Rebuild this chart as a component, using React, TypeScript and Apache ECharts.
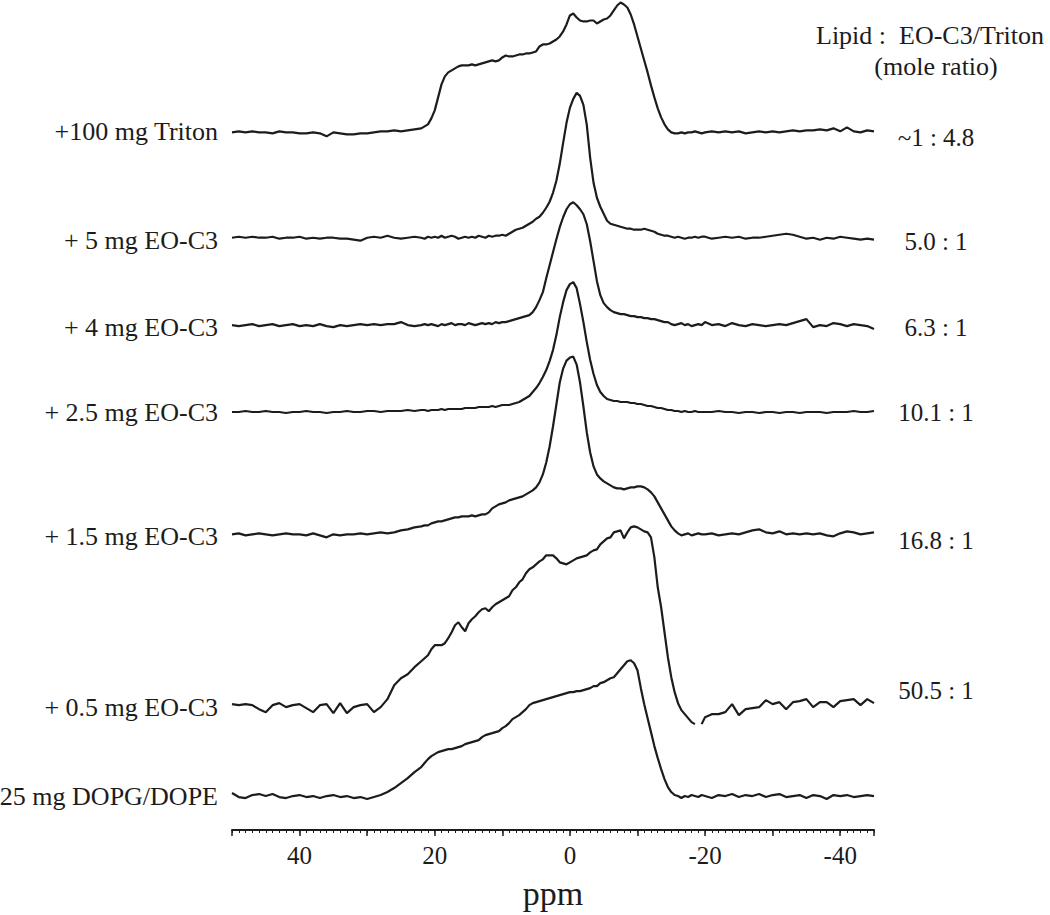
import React, { useEffect, useRef } from "react";
import * as echarts from "echarts";

// chemical shift sampling grid (ppm)
const ppm = [
  50, 49, 48, 47, 46, 45, 44, 43, 42, 41, 40, 39, 38, 37, 36, 35, 34, 33, 32, 31, 30, 29, 28, 27, 26, 25, 24, 23,
  22, 21.5, 21, 20.5, 20, 19.5, 19, 18.5, 18, 17.5,
  17, 16.5, 16, 15.5, 15, 14.5, 14, 13.5, 13, 12.5,
  12, 11.5, 11, 10.5, 10, 9.5, 9, 8.5, 8, 7.5,
  7, 6.5, 6, 5.5, 5, 4.5, 4, 3.5, 3, 2.5,
  2, 1.5, 1, 0.5, 0, -0.5, -1, -1.5, -2, -2.5,
  -3, -3.5, -4, -4.5, -5, -5.5, -6, -6.5, -7, -7.5,
  -8, -8.5, -9, -9.5, -10, -10.5, -11, -11.5, -12, -12.5,
  -13, -13.5, -14, -14.5, -15, -15.5, -16, -16.5, -17, -17.5,
  -18, -18.5, -19, -19.5, -20,
  -21, -22, -23, -24, -25, -26, -27, -28, -29, -30, -31, -32, -33, -34, -35, -36, -37, -38, -39, -40, -41, -42, -43, -44, -45,
];

// signal intensities (height above each trace's own baseline)
const triton100 = [
  0, 1, 0, 1, 0, 0, -1, 1, 0, 0, -1, -1, 0, -1, -4, 0, -1, -2, -2, -1, -1, 0, 1, 1, 2, 1, 2, 3,
  4, 6, 8, 14, 22, 35, 48, 56, 60, 62,
  64, 66, 67, 67, 67, 68, 67, 68, 69, 70,
  71, 72, 71, 72, 75, 77, 76, 76, 77, 78,
  78, 79, 79, 80, 81, 86, 88, 88, 89, 91,
  93, 96, 101, 108, 117, 119, 115, 112, 111, 111,
  112, 112, 109, 111, 113, 114, 117, 122, 127, 130,
  128, 125, 118, 108, 96, 84, 72, 60, 47, 35,
  24, 15, 8, 3, 0, -1, -1, 0, -1, 0,
  0, 1, 0, -1, 0,
  1, 0, 1, 0, 1, -1, 0, 1, 0, 1, 0, 1, 2, 1, 2, 2, 3, 2, 4, 1, 5, 1, 0, 2, 1,
];

const eoc3_5mg = [
  0, 1, 0, 1, 0, 0, 1, -1, 0, 0, 1, -1, 0, -1, 0, 0, -1, -1, -2, -3, 0, 1, 0, 2, 0, -1, 0, 1,
  0, -1, 1, 0, 1, 0, 2, 0, 1, 2,
  1, -1, 0, 1, 0, 1, 0, 2, 1, 0,
  2, 1, 2, 2, 3, 2, 4, 6, 8, 9,
  10, 12, 14, 16, 19, 21, 25, 30, 36, 45,
  57, 74, 95, 115, 130, 139, 145, 142, 133, 113,
  80, 55, 40, 31, 24, 17, 14, 13, 12, 11,
  10, 9, 9, 8, 8, 8, 9, 8, 7, 6,
  4, 3, 2, 2, 1, 0, 1, 0, -1, 0,
  0, 1, 0, 1, 1,
  -1, 0, 1, 0, 1, -1, 0, 0, 1, 2, 3, 4, 3, 1, -1, 0, -2, 0, -1, 1, 0, -1, -2, -1, -2,
];

const eoc3_4mg = [
  0, -1, 0, 1, -1, 0, 1, -1, 0, 1, -1, 0, -1, 1, -1, -2, 0, -1, 0, 1, 0, 1, 0, 1, 1, 3, 0, -1,
  0, 1, 0, 1, 0, -1, 1, 0, 1, 2,
  0, 1, 1, 0, 2, 1, 0, 1, 2, 1,
  2, 1, 3, 2, 3, 3, 4, 5, 6, 7,
  8, 9, 10, 13, 18, 25, 33, 47, 60, 73,
  86, 98, 108, 116, 121, 123, 120, 116, 111, 101,
  84, 64, 44, 30, 22, 18, 15, 13, 12, 11,
  11, 10, 9, 9, 8, 8, 7, 7, 6, 6,
  5, 4, 3, 3, 1, 0, 1, 2, 0, 1,
  -1, 0, 1, 0, 3,
  0, 1, -1, 2, 0, -1, 1, 0, -1, 0, 1, 0, 2, 4, 6, -2, 0, -1, 2, 1, -1, 1, 0, -1, -4,
];

const eoc3_2p5mg = [
  0, 0, 1, 0, 0, 1, 0, 0, -1, 0, 0, 1, 0, 0, -1, 0, 0, 1, 0, 0, 1, 1, 0, 1, 1, 1, 2, 1,
  2, 2, 1, 2, 2, 2, 3, 2, 3, 3,
  3, 3, 3, 4, 4, 4, 4, 5, 5, 5,
  5, 6, 5, 6, 7, 7, 7, 8, 9, 10,
  12, 14, 16, 20, 24, 29, 35, 42, 51, 62,
  77, 95, 110, 122, 128, 130, 124, 108, 90, 70,
  52, 38, 27, 20, 16, 13, 12, 11, 11, 10,
  10, 10, 9, 9, 8, 8, 7, 6, 6, 5,
  4, 4, 3, 2, 2, 1, 1, 0, 1, 0,
  0, 1, 0, 0, 0,
  0, 1, 0, 0, -1, 0, 0, -1, 0, 0, -1, 0, 0, -1, 0, 0, 0, -1, 0, 0, 0, 1, 0, 0, 1,
];

const eoc3_1p5mg = [
  0, 1, -1, 0, 1, 0, -1, 0, 1, 0, 0, -1, 1, -1, -3, 0, -1, 0, 0, 1, 0, 1, 2, 1, 2, 4, 5, 7,
  8, 9, 9, 11, 12, 13, 13, 14, 15, 16,
  17, 17, 18, 18, 18, 19, 18, 19, 20, 20,
  22, 26, 28, 30, 31, 32, 34, 35, 36, 37,
  38, 40, 42, 44, 47, 52, 60, 72, 88, 108,
  130, 152, 166, 174, 177, 178, 170, 152, 128, 102,
  82, 68, 60, 56, 53, 51, 49, 47, 46, 46,
  45, 46, 47, 47, 48, 48, 47, 45, 42, 38,
  32, 26, 20, 14, 8, 4, 1, -1, 0, 1,
  -1, 0, 1, 0, 0,
  1, -1, 0, 1, 0, 2, 4, 5, 2, 1, 3, 0, 1, 0, 1, 0, 1, -1, -2, 1, 3, 2, 0, 1, 2,
];

const eoc3_0p5mg = [
  3, 2, 3, 2, -2, -5, 2, 4, 0, 2, 3, -1, -5, 2, 3, -6, 4, -6, 0, 2, 3, -5, 0, 8, 22, 29, 33, 40,
  46, 49, 52, 58, 62, 62, 62, 64, 69, 75,
  82, 85, 80, 76, 84, 88, 91, 95, 98, 99,
  96, 100, 103, 105, 107, 109, 111, 117, 120, 125,
  128, 134, 138, 140, 143, 146, 148, 152, 152, 152,
  149, 145, 144, 143, 145, 147, 149, 150, 151, 152,
  155, 157, 158, 163, 166, 169, 170, 175, 176, 177,
  169, 175, 180, 181, 180, 178, 176, 175, 170, 150,
  120, 100, 75, 50, 30, 15, 4, -3, -7, -11,
  -15, -17, null, -17, -10,
  -7, -7, -5, 3, -8, -2, -1, 0, 7, 3, 5, -2, 5, 6, 8, 0, 5, 5, 0, 6, 7, 8, 2, 8, 4,
];

const dopgDope = [
  3, -1, -2, 1, 2, 0, 2, -1, -2, 0, 1, -1, 0, -2, 0, 1, -1, 0, -2, -1, -3, -1, 1, 4, 8, 13, 18, 24,
  29, 33, 37, 40, 42, 44, 45, 46, 47, 47,
  48, 49, 50, 52, 53, 54, 55, 56, 59, 61,
  62, 63, 64, 65, 68, 70, 73, 77, 79, 81,
  84, 87, 91, 93, 94, 95, 96, 97, 98, 99,
  100, 101, 102, 103, 104, 104, 105, 105, 106, 107,
  108, 110, 110, 113, 114, 116, 118, 119, 123, 127,
  131, 135, 136, 133, 126, 108, 92, 78, 64, 50,
  38, 27, 17, 9, 4, 1, 0, -2, 0, -1,
  1, 0, -1, 1, 0,
  -2, 1, 0, 2, -1, 1, 0, 2, -1, 1, 2, -1, 0, 1, -2, 1, 0, -3, 1, 0, 1, -1, 0, 1, 0,
];

const sampleLabels = [
  "+100 mg Triton",
  "+ 5 mg EO-C3",
  "+ 4 mg EO-C3",
  "+ 2.5 mg EO-C3",
  "+ 1.5 mg EO-C3",
  "+ 0.5 mg EO-C3",
  "25 mg DOPG/DOPE",
];
const ratioLabels = ["~1 : 4.8", "5.0 : 1", "6.3 : 1", "10.1 : 1", "16.8 : 1", "50.5 : 1", ""];
const traces = [triton100, eoc3_5mg, eoc3_4mg, eoc3_2p5mg, eoc3_1p5mg, eoc3_0p5mg, dopgDope];

// layout (vertical stacking offsets, in px above the axis)
const stackOffset = [698.5, 593, 505.5, 418.5, 296, 123, 34];
const leftLabelY = [131, 240, 327, 412, 536, 707, 796];
const rightLabelY = [137, 241, 327, 412, 540, 690, 0];

const FONT = '"Liberation Serif", "Times New Roman", serif';
const INK = "#1c1c1c";

export default function App() {
  const ref = useRef<HTMLDivElement>(null);
  useEffect(() => {
    if (!ref.current) return;
    const chart = echarts.init(ref.current, null, { renderer: "svg" });
    const series = traces.map((vals, k) => ({
      type: "line",
      name: sampleLabels[k],
      xAxisIndex: 0,
      yAxisIndex: 0,
      showSymbol: false,
      symbol: "none",
      connectNulls: false,
      clip: false,
      lineStyle: { color: INK, width: 2.2 },
      data: ppm.map((p, i) => [-p, vals[i] == null ? "-" : stackOffset[k] + (vals[i] as number)]),
    }));
    const graphics: any[] = [];
    sampleLabels.forEach((t, k) => {
      graphics.push({
        type: "text",
        x: 218,
        y: leftLabelY[k],
        style: { text: t, font: `26px ${FONT}`, fill: INK, textAlign: "right", textVerticalAlign: "middle" },
      });
    });
    ratioLabels.forEach((t, k) => {
      if (!t) return;
      graphics.push({
        type: "text",
        x: 936,
        y: rightLabelY[k],
        style: { text: t, font: `25px ${FONT}`, fill: INK, textAlign: "center", textVerticalAlign: "middle" },
      });
    });
    graphics.push({
      type: "text",
      x: 930,
      y: 35,
      style: { text: "Lipid :  EO-C3/Triton", font: `26px ${FONT}`, fill: INK, textAlign: "center", textVerticalAlign: "middle" },
    });
    graphics.push({
      type: "text",
      x: 936,
      y: 66,
      style: { text: "(mole ratio)", font: `26px ${FONT}`, fill: INK, textAlign: "center", textVerticalAlign: "middle" },
    });

    chart.setOption({
      animation: false,
      backgroundColor: "#ffffff",
      grid: { left: 232, right: 176, top: 0, bottom: 84, containLabel: false },
      xAxis: [
        {
          type: "value",
          min: -50,
          max: 45,
          interval: 10,
          position: "bottom",
          name: "ppm",
          nameLocation: "middle",
          nameGap: 46,
          nameTextStyle: { fontFamily: FONT, fontSize: 34, color: INK },
          axisLine: { show: true, lineStyle: { color: INK, width: 2 } },
          axisTick: { show: true, inside: false, length: 6, lineStyle: { color: INK, width: 1.5 } },
          minorTick: { show: false },
          splitLine: { show: false },
          axisLabel: {
            show: true,
            margin: 13,
            fontFamily: FONT,
            fontSize: 25,
            color: INK,
            formatter: (v: number) => (v % 20 === 0 ? String(-v) : ""),
          },
        },
        {
          type: "value",
          min: -50,
          max: 45,
          interval: 1,
          position: "bottom",
          axisLine: { show: false },
          axisTick: { show: true, inside: false, length: 3, lineStyle: { color: INK, width: 1 } },
          axisLabel: { show: false },
          splitLine: { show: false },
        },
      ],
      yAxis: { type: "value", min: 0, max: 831, show: false },
      series,
      graphic: graphics,
    });
    return () => chart.dispose();
  }, []);
  return (
    <div
      ref={ref}
      style={{ position: "absolute", left: 0, top: 0, width: 1050, height: 915, background: "#fff" }}
    />
  );
}
